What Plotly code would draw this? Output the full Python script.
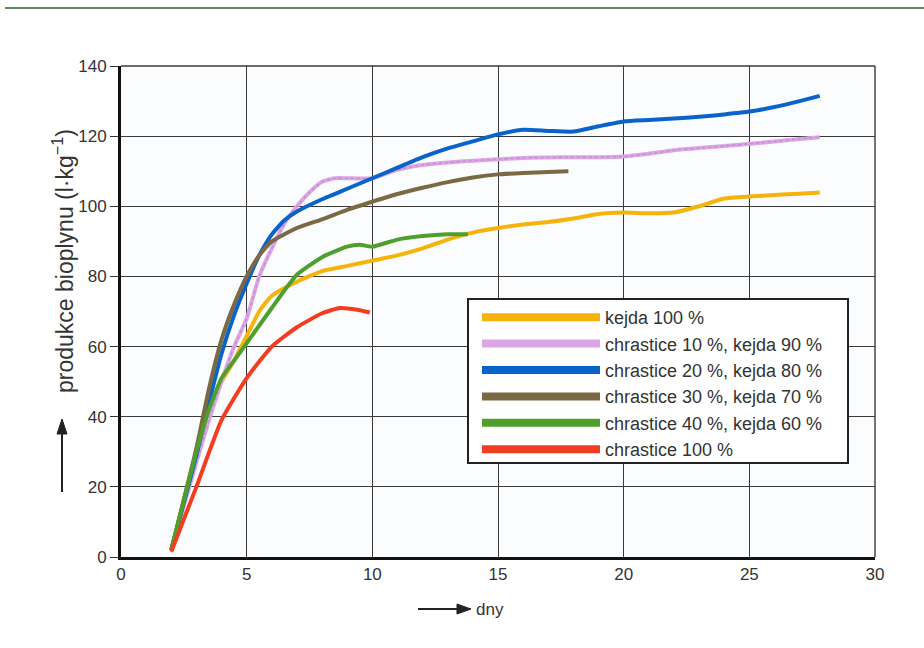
import plotly.graph_objects as go

# Cumulative biogas yield (l/kg) over digestion time (days)
days_kejda = [2, 3, 3.5, 4, 4.5, 5, 5.5, 6, 7, 8, 9, 10, 11, 12, 13, 14, 15, 16, 17, 18, 19, 20, 21, 22, 23, 24, 25, 26, 27, 27.8]
kejda_100 = [2, 30, 42, 50, 56, 63, 70, 74.5, 78.5, 81.5, 83, 84.5, 86, 88, 90.5, 92.5, 93.8, 94.8, 95.5, 96.5, 97.8, 98.2, 98.0, 98.2, 100.0, 102.2, 102.8, 103.2, 103.6, 103.9]

days_10 = [2, 3, 3.5, 4, 4.5, 5, 5.5, 6, 6.5, 7, 7.5, 8, 8.5, 9, 10, 11, 12, 13, 14, 15, 16, 17, 18, 19, 20, 21, 22, 23, 24, 25, 26, 27, 27.8]
chr_10 = [2, 27, 39, 50, 60, 68, 80, 88, 95, 100, 104, 107, 108, 108, 108, 110.4, 111.8, 112.5, 113, 113.4, 113.8, 113.9, 114, 114, 114.2, 115, 116, 116.6, 117.2, 117.8, 118.5, 119.2, 119.7]

days_20 = [2, 3, 3.5, 4, 4.5, 5, 5.5, 6, 6.5, 7, 8, 9, 10, 11, 12, 13, 14, 15, 16, 17, 18, 19, 20, 21, 22, 23, 24, 25, 26, 27, 27.8]
chr_20 = [2, 29, 44, 58, 69, 78, 86, 92, 96, 98.5, 102, 105, 108, 111, 114, 116.5, 118.5, 120.5, 121.8, 121.5, 121.3, 122.8, 124.2, 124.6, 125, 125.5, 126.2, 127, 128.3, 130, 131.5]

days_30 = [2, 3, 3.5, 4, 4.5, 5, 5.5, 6, 7, 8, 9, 10, 11, 12, 13, 14, 15, 16, 17, 17.8]
chr_30 = [2, 31, 48, 62, 72, 80, 86, 90, 93.8, 96.3, 99, 101.3, 103.5, 105.3, 106.9, 108.2, 109.1, 109.5, 109.8, 110]

days_40 = [2, 3, 3.5, 4, 4.5, 5, 5.5, 6, 6.5, 7, 8, 9, 9.5, 10, 11, 12, 13, 13.8]
chr_40 = [2, 30, 42, 51, 56, 61, 66, 71, 76, 80.5, 85.5, 88.5, 89, 88.5, 90.5, 91.5, 92, 92]

days_100 = [2, 3, 4, 5, 6, 7, 8, 8.7, 9.4, 9.9]
chr_100 = [1.5, 20, 39, 51, 60, 65.5, 69.5, 71, 70.5, 69.7]

series = [
    ("kejda 100 %", days_kejda, kejda_100, "#f6b30a"),
    ("chrastice 10 %, kejda 90 %", days_10, chr_10, "#dba6e4"),
    ("chrastice 20 %, kejda 80 %", days_20, chr_20, "#0a63c9"),
    ("chrastice 30 %, kejda 70 %", days_30, chr_30, "#7a6942"),
    ("chrastice 40 %, kejda 60 %", days_40, chr_40, "#4f9f2c"),
    ("chrastice 100 %", days_100, chr_100, "#f23d20"),
]
HATCHED = "chrastice 10 %, kejda 90 %"

x_ticks = [0, 5, 10, 15, 20, 25, 30]
y_ticks = [0, 20, 40, 60, 80, 100, 120, 140]

FONT = "Liberation Sans, Arial, sans-serif"

# plot area in page pixels, used to place the decorations
L, R, T, B = 121, 875, 66, 557


def px(xp):
    return (xp - L) / (R - L)


def py(yp):
    return (B - yp) / (B - T)


fig = go.Figure()

for name, xs, ys, color in series:
    fig.add_trace(go.Scatter(
        x=xs, y=ys, mode="lines", name=name, showlegend=False,
        line=dict(color=color, width=4, shape="spline", smoothing=0.5),
        hoverinfo="x+y+name",
    ))
    if name == HATCHED:
        # hatched texture of the pink band
        fig.add_trace(go.Scatter(
            x=xs, y=ys, mode="lines", showlegend=False, hoverinfo="skip",
            line=dict(color="#c58fd2", width=1.5, dash="dot", shape="spline", smoothing=0.5),
        ))

# legend entries with thicker sample bars
for i, (name, xs, ys, color) in enumerate(series):
    fig.add_trace(go.Scatter(
        x=[None], y=[None], mode="lines", name=name, legendgroup=f"g{i}",
        line=dict(color=color, width=8),
    ))

fig.update_layout(
    width=924, height=648,
    margin=dict(l=L, r=924 - R, t=T, b=648 - B),
    paper_bgcolor="#ffffff",
    plot_bgcolor="#fbfcfe",
    font=dict(family=FONT, size=17, color="#333333"),
    showlegend=True,
    legend=dict(
        x=px(477), y=py(299), xanchor="left", yanchor="top",
        bgcolor="rgba(0,0,0,0)", borderwidth=0,
        font=dict(family=FONT, size=18, color="#333333"),
        itemwidth=118, tracegroupgap=0,
    ),
    xaxis=dict(
        range=[0, 30], tickvals=x_ticks, ticks="", showline=True, linecolor="#111111",
        linewidth=3, showgrid=True, gridcolor="#3a3a3a", gridwidth=1.4, zeroline=False,
        tickfont=dict(size=17, color="#333333"),
    ),
    yaxis=dict(
        range=[0, 140], tickvals=y_ticks, ticks="outside", ticklen=8, tickwidth=1.4,
        tickcolor="#333333", showline=True, linecolor="#111111", linewidth=3,
        showgrid=True, gridcolor="#3a3a3a", gridwidth=1.4, zeroline=False,
        tickfont=dict(size=17, color="#333333"),
    ),
)

# frame on top and right, as thin as the grid
fig.add_shape(type="line", xref="paper", yref="paper", x0=0, x1=1, y0=1, y1=1,
              line=dict(color="#3a3a3a", width=1.4))
fig.add_shape(type="line", xref="paper", yref="paper", x0=1, x1=1, y0=0, y1=1,
              line=dict(color="#3a3a3a", width=1.4))

# legend box
fig.add_shape(type="rect", xref="paper", yref="paper", layer="above",
              x0=px(468), x1=px(848), y0=py(463), y1=py(299),
              fillcolor="#ffffff", line=dict(color="#222222", width=2))

# page rule along the top
fig.add_shape(type="line", xref="paper", yref="paper",
              x0=px(5), x1=px(924), y0=py(8), y1=py(8),
              line=dict(color="#5f8c62", width=2))

# arrow before the x-axis title
fig.add_shape(type="line", xref="paper", yref="paper",
              x0=px(418), x1=px(460), y0=py(609), y1=py(609),
              line=dict(color="#222222", width=2))
fig.add_shape(type="path", xref="paper", yref="paper",
              path=f"M {px(457)} {py(604)} L {px(471)} {py(609)} L {px(457)} {py(614)} Z",
              fillcolor="#222222", line=dict(color="#222222", width=1))
fig.add_annotation(xref="paper", yref="paper", x=px(474), y=py(609),
                   text="dny", showarrow=False, xanchor="left", yanchor="middle",
                   font=dict(family=FONT, size=17, color="#333333"))

# arrow below the y-axis title
fig.add_shape(type="line", xref="paper", yref="paper",
              x0=px(62), x1=px(62), y0=py(492), y1=py(430),
              line=dict(color="#222222", width=2))
fig.add_shape(type="path", xref="paper", yref="paper",
              path=f"M {px(57)} {py(434)} L {px(62)} {py(419)} L {px(67)} {py(434)} Z",
              fillcolor="#222222", line=dict(color="#222222", width=1))
fig.add_annotation(xref="paper", yref="paper", x=px(63), y=py(261),
                   text="produkce bioplynu (l·kg<sup>−1</sup>)", textangle=-90,
                   showarrow=False, xanchor="center", yanchor="middle",
                   font=dict(family=FONT, size=23, color="#333333"))

fig.write_html("out.html")
